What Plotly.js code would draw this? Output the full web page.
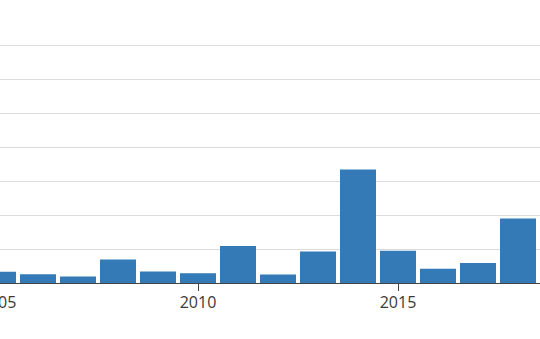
<!DOCTYPE html>
<html>
<head>
<meta charset="utf-8">
<script src="https://cdn.plot.ly/plotly-3.0.1.min.js"></script>
<style>
  html, body { margin: 0; padding: 0; width: 540px; height: 339px; overflow: hidden; background: #fff; }
  #chart { position: absolute; left: -50px; top: 0; width: 640px; height: 339px; }
</style>
</head>
<body>
<div id="chart"></div>
<script>
const years = [2005, 2006, 2007, 2008, 2009, 2010, 2011, 2012, 2013, 2014, 2015, 2016, 2017, 2018];
const values = [3.3, 2.6, 1.9, 6.9, 3.4, 2.9, 10.9, 2.5, 9.3, 33.4, 9.5, 4.2, 5.9, 19.0];
const xTickVals = [2005, 2010, 2015];
const xTickText = ["2005", "2010", "2015"];

Plotly.newPlot('chart', [{
  type: 'bar',
  x: years,
  y: values,
  marker: { color: '#337ab7' },
  hoverinfo: 'x+y'
}], {
  width: 640,
  height: 339,
  margin: { l: 30, r: 30, t: 28, b: 56 },
  paper_bgcolor: '#ffffff',
  plot_bgcolor: '#ffffff',
  bargap: 0.1,
  showlegend: false,
  font: { family: '"Open Sans", sans-serif', size: 16, color: '#3a3a3a' },
  xaxis: {
    range: [2004.55, 2019.05],
    tickmode: 'array',
    tickvals: xTickVals,
    ticktext: xTickText,
    ticks: 'outside',
    ticklen: 7,
    tickcolor: '#444',
    ticklabelstandoff: -2,
    showline: true,
    linecolor: '#444',
    linewidth: 1,
    showgrid: false,
    zeroline: false,
    tickfont: { size: 16, color: '#3a3a3a' }
  },
  yaxis: {
    range: [0, 75],
    dtick: 10,
    showgrid: true,
    gridcolor: '#dcdcdc',
    gridwidth: 1,
    zeroline: false,
    showticklabels: false,
    showline: false
  }
}, { displayModeBar: false, staticPlot: true });
</script>
</body>
</html>
